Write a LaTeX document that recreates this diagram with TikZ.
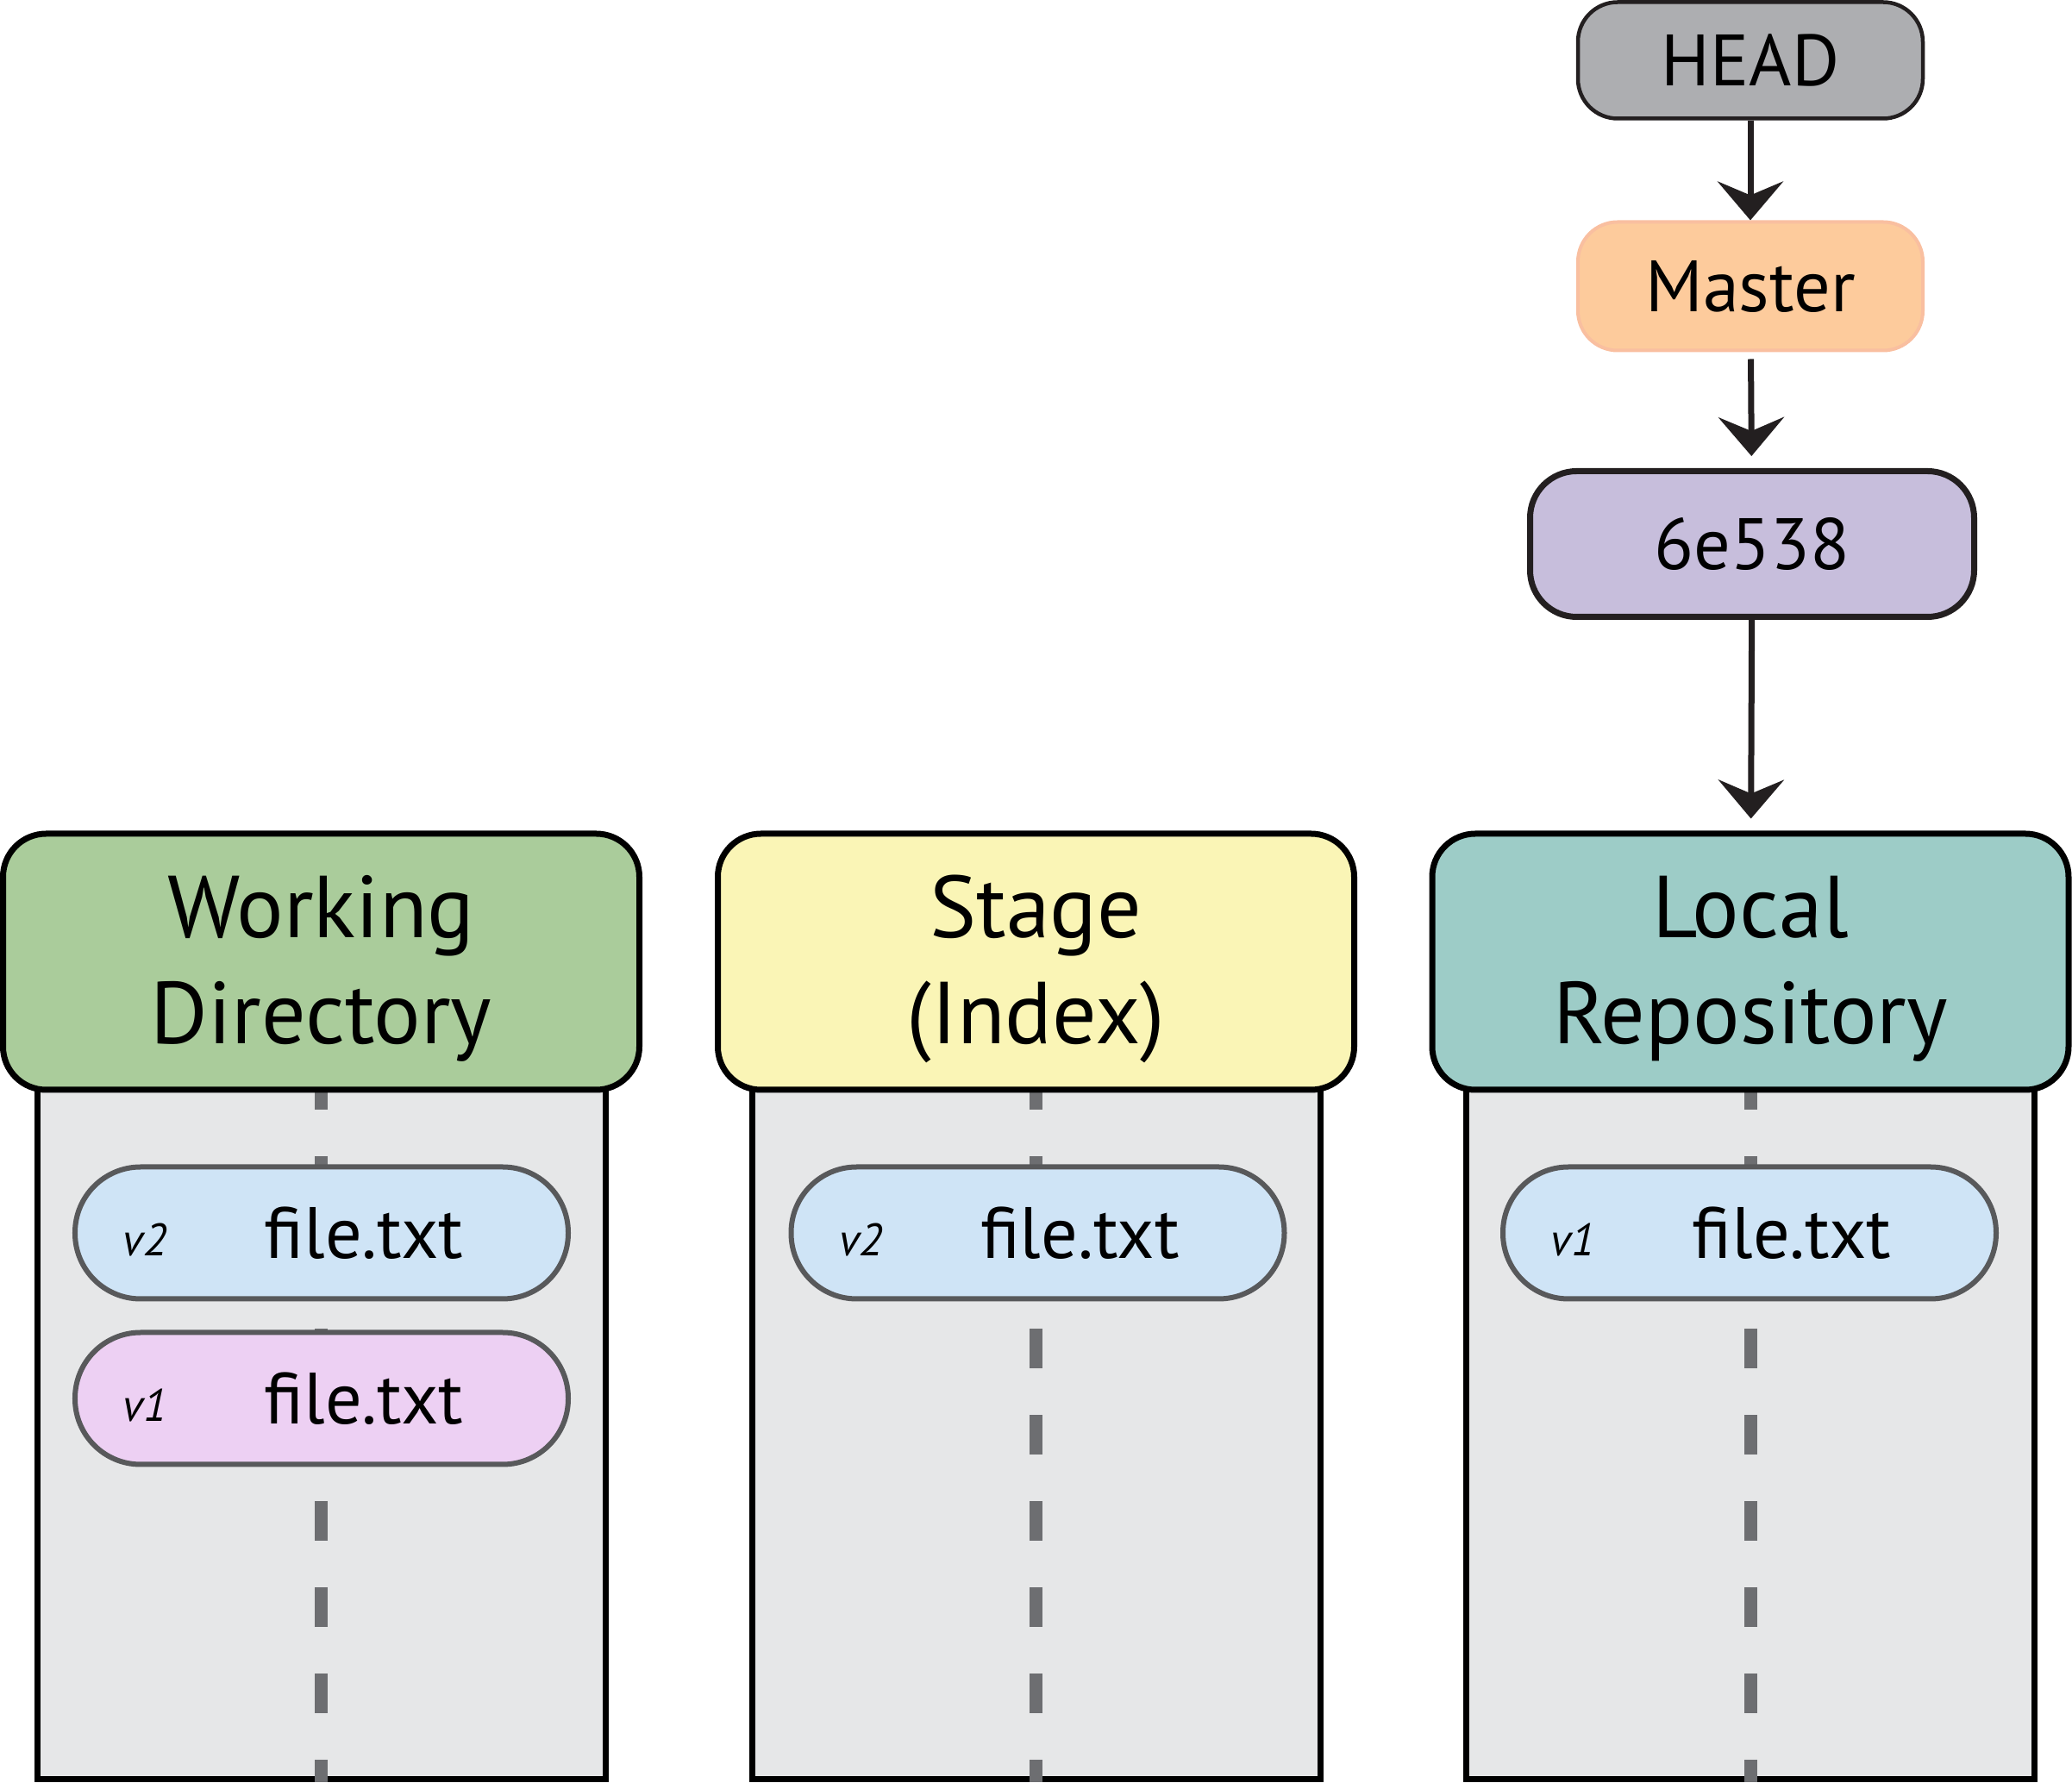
\documentclass[tikz,border=0pt]{standalone}
\usepackage{fontspec}
\setmainfont{PT Sans}
\usetikzlibrary{arrows.meta,positioning}

\definecolor{ink}{HTML}{231F20}
\definecolor{headgray}{HTML}{ADAEB1}
\definecolor{masterorange}{HTML}{FDCB9C}
\definecolor{masteredge}{HTML}{F9BFA0}
\definecolor{commitpurple}{HTML}{C7BEDC}
\definecolor{wdgreen}{HTML}{AACC9B}
\definecolor{stageyellow}{HTML}{FAF5B6}
\definecolor{repoteal}{HTML}{9DCCC7}
\definecolor{bodygray}{HTML}{E6E7E8}
\definecolor{fileblue}{HTML}{CFE4F6}
\definecolor{filepink}{HTML}{EDD0F3}
\definecolor{dashgray}{HTML}{6D6E71}
\definecolor{fileedge}{HTML}{58595B}

\begin{document}
\begin{tikzpicture}[
    ref node/.style={rectangle,rounded corners=0.46cm,minimum width=4cm,font=\fontsize{24}{28}\selectfont,inner sep=0pt},
    header node/.style={rectangle,draw=black,line width=0.07cm,rounded corners=0.5cm,minimum width=7.38cm,minimum height=2.97cm,
        align=center,font=\fontsize{29}{35}\selectfont,inner sep=0pt},
    body node/.style={rectangle,draw=black,fill=bodygray,line width=0.07cm,minimum width=6.59cm,minimum height=8.64cm,inner sep=0pt},
    file node/.style={rectangle,draw=fileedge,line width=0.06cm,rounded corners=0.76cm,minimum width=5.72cm,minimum height=1.53cm,inner sep=0pt},
    file text/.style={font=\fontsize{24}{28}\selectfont,inner sep=0pt},
    version text/.style={font=\fontsize{15}{17}\selectfont\itshape,inner sep=0pt},
    track/.style={dashgray,line width=0.15cm,dash pattern=on 0.46cm off 0.54cm},
    pointer/.style={ink,line width=0.07cm,-{Stealth[length=0.45cm,width=0.76cm,inset=0.16cm]}}]

    \useasboundingbox (0,0) rectangle (24.03,-20.68);

    % refs and commit
    \node[ref node,draw=ink,line width=0.045cm,fill=headgray,minimum height=1.35cm] at (20.30,-0.70) (head) {HEAD};
    \node[ref node,draw=masteredge,line width=0.04cm,fill=masterorange,minimum height=1.49cm] at (20.30,-3.32) (master) {Master};
    \node[ref node,draw=ink,line width=0.07cm,fill=commitpurple,rounded corners=0.54cm,minimum width=5.15cm,minimum height=1.69cm] at (20.32,-6.31) (commit) {6e538};

    % column bodies
    \node[body node] at (3.725,-16.32) (wdbody) {};
    \node[body node] at (12.015,-16.32) (stagebody) {};
    \node[body node] at (20.30,-16.32) (repobody) {};

    \draw[track] (3.725,-12.41) -- (wdbody.south);
    \draw[track] (12.015,-12.41) -- (stagebody.south);
    \draw[track] (20.30,-12.41) -- (repobody.south);

    % column headers
    \node[header node,fill=wdgreen,text depth=0.05cm] at (3.725,-11.155) (wd) {Working\\Directory};
    \node[header node,fill=stageyellow,text depth=0.05cm] at (12.015,-11.155) (stage) {Stage\\(Index)};
    \node[header node,fill=repoteal,text depth=0.05cm] at (20.30,-11.155) (repo) {Local\\Repository};

    % files
    \node[file node,fill=fileblue] at (3.73,-14.30) (wdnew) {};
    \node[file node,fill=filepink] at (3.73,-16.22) (wdold) {};
    \node[file node,fill=fileblue] at (12.035,-14.30) (stagenew) {};
    \node[file node,fill=fileblue] at (20.29,-14.30) (repoold) {};

    \node[version text] at ([xshift=-2.05cm,yshift=-0.08cm]wdnew.center) (wdnewv) {v2};
    \node[file text] at ([xshift=0.49cm]wdnew.center) (wdnewf) {file.txt};
    \node[version text] at ([xshift=-2.05cm,yshift=-0.08cm]wdold.center) (wdoldv) {v1};
    \node[file text] at ([xshift=0.49cm]wdold.center) (wdoldf) {file.txt};
    \node[version text] at ([xshift=-2.05cm,yshift=-0.08cm]stagenew.center) (stagenewv) {v2};
    \node[file text] at ([xshift=0.49cm]stagenew.center) (stagenewf) {file.txt};
    \node[version text] at ([xshift=-2.05cm,yshift=-0.08cm]repoold.center) (repooldv) {v1};
    \node[file text] at ([xshift=0.49cm]repoold.center) (repooldf) {file.txt};

    \path[pointer]
        (head) edge (master)
        (master) edge[shorten <=0.08cm,shorten >=0.14cm] (commit)
        (commit) edge[shorten >=0.14cm] (repo)
        ;
\end{tikzpicture}
\end{document}
